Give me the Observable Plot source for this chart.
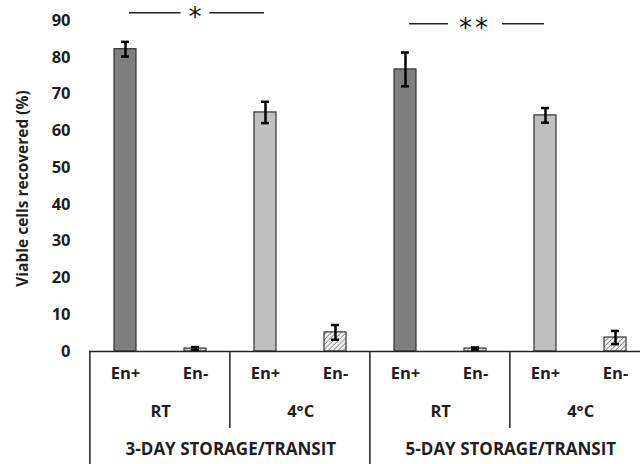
<!DOCTYPE html>
<html>
<head>
<meta charset="utf-8">
<script src="https://cdn.jsdelivr.net/npm/d3@7"></script>
<script src="https://cdn.jsdelivr.net/npm/@observablehq/plot@0.6"></script>
<style>
  html, body { margin: 0; padding: 0; background: #fff; }
  #chart svg { display: block; overflow: hidden; }
</style>
</head>
<body>
<div id="chart"></div>
<script>
// ---- data ----
const days = ["3-DAY STORAGE/TRANSIT", "5-DAY STORAGE/TRANSIT"];
const temps = ["RT", "4°C"];
const enzymes = ["En+", "En-"];
const means  = [82.2, 0.8, 65.0, 5.2, 76.7, 0.8, 64.2, 3.8];
const errors = [2.0, 0.4, 2.9, 2.0, 4.6, 0.3, 2.0, 1.8];
const yTicks = [0, 10, 20, 30, 40, 50, 60, 70, 80, 90];
const yLabel = "Viable cells recovered (%)";
const sigDay   = [0, 1];
const sigLabel = ["*", "**"];
const sigY     = [92, 89];

// ---- build table ----
const rows = [];
days.forEach((day, d) => temps.forEach((temp, t) => enzymes.forEach((enz, e) => {
  const i = d * 4 + t * 2 + e;
  rows.push({
    id: `${d}-${t}-${e}`, i, day, temp, enz, d, t, e,
    mean: means[i], err: errors[i],
    fill: e === 1 ? "url(#hatch)" : (t === 0 ? "#7f7f7f" : "#bfbfbf")
  });
})));
const ids = rows.map(r => r.id);

const W = 640, H = 464;
const left = 89, right = 651;           // plot spans past the right edge (cropped)
const step = (right - left) / ids.length;
const font = "'Open Sans', Lato, sans-serif";
const fs = 16.5;
const ink = "#1e1e1e";

const chart = Plot.plot({
  width: W, height: H,
  marginLeft: left, marginRight: 0, marginTop: 20, marginBottom: 113,
  style: { fontFamily: font, fontSize: fs + "px", fontWeight: "bold", color: ink, background: "#fff" },
  x: { domain: ids, range: [left, right], paddingInner: 0.687, paddingOuter: 0.3435, axis: null },
  y: { domain: [0, 90], axis: null },
  color: { type: "identity" },
  marks: [
    Plot.axisY({ ticks: yTicks, tickSize: 0, tickPadding: 19, tickFormat: d => d, label: null, fontSize: fs, fontWeight: "bold" }),
    Plot.barY(rows, { x: "id", y: "mean", fill: "fill", stroke: "#333", strokeWidth: 1.2 }),
    Plot.ruleX(rows, { x: "id", y1: r => r.mean - r.err, y2: r => r.mean + r.err, stroke: "#000", strokeWidth: 2.5 }),
    Plot.tickY(rows, { x: "id", y: r => r.mean - r.err, inset: 7, stroke: "#000", strokeWidth: 2.5 }),
    Plot.tickY(rows, { x: "id", y: r => r.mean + r.err, inset: 7, stroke: "#000", strokeWidth: 2.5 }),
    Plot.ruleY([0], { stroke: "#222", strokeWidth: 1.5 }),
    Plot.text(rows, { x: "id", text: "enz", frameAnchor: "bottom", dy: 27, fontSize: fs, fill: ink }),
    Plot.text(rows.filter(r => r.e === 0), { x: "id", text: "temp", frameAnchor: "bottom", dx: step / 2, dy: 65, fontSize: fs, fill: ink }),
    Plot.text(rows.filter(r => r.e === 0 && r.t === 0), { x: "id", text: "day", frameAnchor: "bottom", dx: step * 1.5, dy: 103, fontSize: fs + 0.5, fill: ink })
  ]
});
document.getElementById("chart").appendChild(chart);

// hatch pattern
const svg = d3.select(chart);
const defs = svg.insert("defs", ":first-child");
const pat = defs.append("pattern").attr("id", "hatch").attr("patternUnits", "userSpaceOnUse")
  .attr("width", 3.5).attr("height", 3.5).attr("patternTransform", "rotate(45)");
pat.append("rect").attr("width", 3.5).attr("height", 3.5).attr("fill", "#f2f2f2");
pat.append("line").attr("x1", 0).attr("y1", 0).attr("x2", 0).attr("y2", 3.5)
  .attr("stroke", "#808080").attr("stroke-width", 1.6);

const xs = chart.scale("x"), ys = chart.scale("y");

// y-axis title
svg.append("text")
  .attr("transform", `translate(22,${(ys.apply(0) + ys.apply(90)) / 2 + 3}) rotate(-90)`)
  .attr("text-anchor", "middle").attr("dominant-baseline", "central")
  .attr("font-family", font).attr("font-size", 15.5).attr("font-weight", "bold").attr("fill", ink)
  .text(yLabel);

// category table lines & significance brackets, from Plot's scales
const center = i => xs.apply(ids[i]) + xs.bandwidth / 2;
const slotStart = i => center(i) - step / 2;
const y0 = ys.apply(0);
const g = svg.append("g").attr("stroke", "#222").attr("stroke-width", 1.5);
for (let k = 0; k <= ids.length; k += 2) {
  const full = k % 4 === 0;
  const x = k < ids.length ? slotStart(k) : center(k - 1) + step / 2;
  g.append("line").attr("x1", x).attr("x2", x).attr("y1", y0).attr("y2", full ? H : y0 + 77);
}
sigDay.forEach((d, j) => {
  const a = center(d * 4) + 4, b = center(d * 4 + 2) - 1, c = center(d * 4 + 1);
  const y = ys.apply(sigY[j]);
  const t = svg.append("text").attr("x", c).attr("y", y + 13).attr("text-anchor", "middle")
    .attr("font-family", "'DejaVu Sans', sans-serif").attr("font-size", 26).attr("font-weight", "normal")
    .attr("letter-spacing", sigLabel[j].length > 1 ? 3 : 0)
    .attr("fill", "#111").text(sigLabel[j]);
  const half = t.node().getBBox().width / 2 + (sigLabel[j].length > 1 ? 11 : 8);
  g.append("line").attr("x1", a).attr("x2", c - half).attr("y1", y).attr("y2", y);
  g.append("line").attr("x1", c + half).attr("x2", b).attr("y1", y).attr("y2", y);
});
</script>
</body>
</html>
